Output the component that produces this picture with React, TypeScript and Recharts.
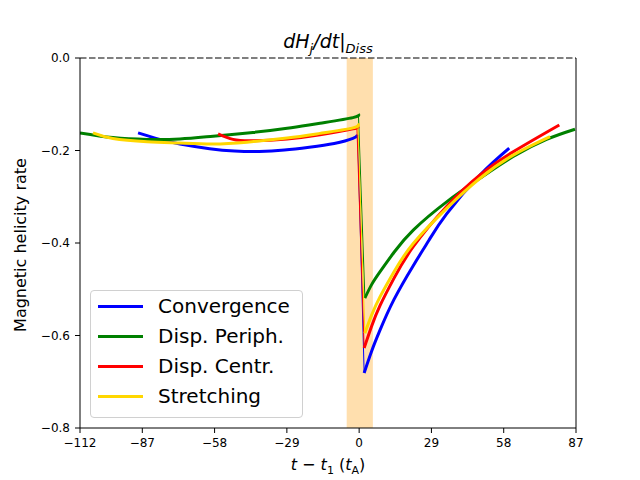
import { LineChart, Line, XAxis, YAxis, ReferenceLine, ReferenceArea } from "recharts";

type Pt = { t: number; v: number };

// time offsets (t - t1, in tA) and helicity rate
const convPre: Pt[] = [
  { t: -88.7, v: -0.162 }, { t: -80, v: -0.176 }, { t: -71.9, v: -0.186 },
  { t: -60, v: -0.196 }, { t: -50, v: -0.201 }, { t: -40, v: -0.202 },
  { t: -30, v: -0.199 }, { t: -20, v: -0.193 }, { t: -10, v: -0.185 },
  { t: -2.5, v: -0.174 }, { t: -0.6, v: -0.166 },
];
const convPost: Pt[] = [
  { t: 2.0, v: -0.681 }, { t: 5, v: -0.634 }, { t: 8.4, v: -0.588 },
  { t: 14, v: -0.522 }, { t: 21.7, v: -0.449 }, { t: 28, v: -0.394 },
  { t: 35.1, v: -0.337 }, { t: 48.5, v: -0.253 }, { t: 60.2, v: -0.195 },
];

const periPre: Pt[] = [
  { t: -112, v: -0.162 }, { t: -98.8, v: -0.172 }, { t: -85.1, v: -0.176 },
  { t: -71.9, v: -0.175 }, { t: -58.6, v: -0.169 }, { t: -42.6, v: -0.161 },
  { t: -28.9, v: -0.152 }, { t: -15.7, v: -0.141 }, { t: -2.5, v: -0.129 },
  { t: -0.3, v: -0.121 },
];
const periPost: Pt[] = [
  { t: 2.3, v: -0.519 }, { t: 5, v: -0.49 }, { t: 8.4, v: -0.462 },
  { t: 14, v: -0.42 }, { t: 21.7, v: -0.372 }, { t: 35.1, v: -0.311 },
  { t: 48.5, v: -0.26 }, { t: 61.8, v: -0.213 }, { t: 75.2, v: -0.176 },
  { t: 86.6, v: -0.154 },
];

const centPre: Pt[] = [
  { t: -56.6, v: -0.164 }, { t: -50.6, v: -0.176 }, { t: -42.6, v: -0.179 },
  { t: -28.9, v: -0.175 }, { t: -15.7, v: -0.166 }, { t: -2.5, v: -0.153 },
  { t: -0.9, v: -0.15 },
];
const centPost: Pt[] = [
  { t: 2.0, v: -0.627 }, { t: 5, v: -0.58 }, { t: 8.4, v: -0.535 },
  { t: 14, v: -0.476 }, { t: 21.7, v: -0.408 }, { t: 35.1, v: -0.321 },
  { t: 48.5, v: -0.253 }, { t: 61.8, v: -0.203 }, { t: 80.3, v: -0.145 },
];

const strPre: Pt[] = [
  { t: -106.8, v: -0.162 }, { t: -98.8, v: -0.174 }, { t: -85.1, v: -0.181 },
  { t: -71.9, v: -0.184 }, { t: -58.6, v: -0.186 }, { t: -45, v: -0.182 },
  { t: -28.9, v: -0.173 }, { t: -15.7, v: -0.163 }, { t: -2.5, v: -0.151 },
  { t: -0.5, v: -0.142 },
];
const strPost: Pt[] = [
  { t: 2.3, v: -0.595 }, { t: 5, v: -0.556 }, { t: 8.4, v: -0.516 },
  { t: 14, v: -0.462 }, { t: 21.7, v: -0.401 }, { t: 35.1, v: -0.325 },
  { t: 48.5, v: -0.26 }, { t: 61.8, v: -0.21 }, { t: 76.6, v: -0.17 },
];

const xTicks = [-112, -87, -58, -29, 0, 29, 58, 87];
const yTicks = [-0.8, -0.6, -0.4, -0.2, 0];

const SERIES = [
  { name: "Convergence", color: "#0000ff", pre: convPre, post: convPost },
  { name: "Disp. Periph.", color: "#008000", pre: periPre, post: periPost },
  { name: "Disp. Centr.", color: "#ff0000", pre: centPre, post: centPost },
  { name: "Stretching", color: "#ffd700", pre: strPre, post: strPost },
];

const FONT = "'DejaVu Sans', sans-serif";

const minus = (s: string) => s.replace("-", "\u2212");

export default function App() {
  return (
    <div style={{ position: "absolute", left: 0, top: 0, width: 640, height: 480, background: "#fff", fontFamily: FONT }}>
      <LineChart width={640} height={480} margin={{ top: 58, right: 64, left: 20, bottom: 22 }}>
        <XAxis
          dataKey="t"
          type="number"
          domain={[-112, 87]}
          ticks={xTicks}
          allowDataOverflow
          tickSize={5}
          tickMargin={5}
          height={30}
          stroke="#000"
          tick={{ fontSize: 12, fill: "#000", fontFamily: FONT }}
          tickFormatter={(v: number) => minus(String(v))}
        />
        <YAxis
          dataKey="v"
          type="number"
          domain={[-0.8, 0]}
          ticks={yTicks}
          allowDataOverflow
          tickSize={5}
          tickMargin={5}
          width={60}
          stroke="#000"
          tick={{ fontSize: 12, fill: "#000", fontFamily: FONT }}
          tickFormatter={(v: number) => minus(v.toFixed(1))}
        />
        <ReferenceArea x1={-5} x2={5.5} y1={-0.8} y2={0} fill="#ffdfae" fillOpacity={1} stroke="none" />
        <ReferenceLine y={0} stroke="#000" strokeWidth={1.2} strokeDasharray="6.5 2.5" />
        <ReferenceLine x={87} stroke="#000" strokeWidth={1} />
        {SERIES.map((s) => [
          <Line key={s.name + "pre"} data={s.pre} dataKey="v" type="natural" stroke={s.color}
            strokeWidth={3} dot={false} activeDot={false} isAnimationActive={false} legendType="none" />,
          <Line key={s.name + "drop"} data={[s.pre[s.pre.length - 1], s.post[0]]} dataKey="v" type="linear"
            stroke={s.color} strokeWidth={1} dot={false} activeDot={false} isAnimationActive={false} legendType="none" />,
          <Line key={s.name + "post"} data={s.post} dataKey="v" type="natural" stroke={s.color}
            strokeWidth={3} dot={false} activeDot={false} isAnimationActive={false} legendType="none" />,
        ])}
      </LineChart>

      {/* title */}
      <div style={{ position: "absolute", left: 208, width: 240, top: 30, textAlign: "center", fontSize: 19, fontStyle: "italic" }}>
        dH<sub style={{ fontSize: 13 }}>j</sub>/dt<span style={{ fontStyle: "normal" }}>|</span>
        <sub style={{ fontSize: 13 }}>Diss</sub>
      </div>

      {/* x label */}
      <div style={{ position: "absolute", left: 228, width: 200, top: 455, textAlign: "center", fontSize: 16 }}>
        <i>t</i> − <i>t</i><sub style={{ fontSize: 11 }}>1</sub> (<i>t</i><sub style={{ fontSize: 11 }}>A</sub>)
      </div>

      {/* y label */}
      <div style={{ position: "absolute", left: 20, top: 245, width: 0, height: 0 }}>
        <div style={{ position: "absolute", transform: "translate(-50%, -50%) rotate(-90deg)", whiteSpace: "nowrap", fontSize: 16 }}>
          Magnetic helicity rate
        </div>
      </div>

      {/* legend */}
      <div style={{ position: "absolute", left: 90, top: 290, width: 211, height: 126, border: "1px solid #d0d0d0", borderRadius: 4, background: "rgba(255,255,255,0.8)" }}>
        {SERIES.map((s, i) => (
          <div key={s.name} style={{ position: "absolute", left: 0, top: 3 + i * 30, height: 24, display: "flex", alignItems: "center" }}>
            <div style={{ marginLeft: 7, width: 45, height: 3, background: s.color }} />
            <div style={{ marginLeft: 15, fontSize: 20, lineHeight: "24px", color: "#000" }}>{s.name}</div>
          </div>
        ))}
      </div>
    </div>
  );
}
